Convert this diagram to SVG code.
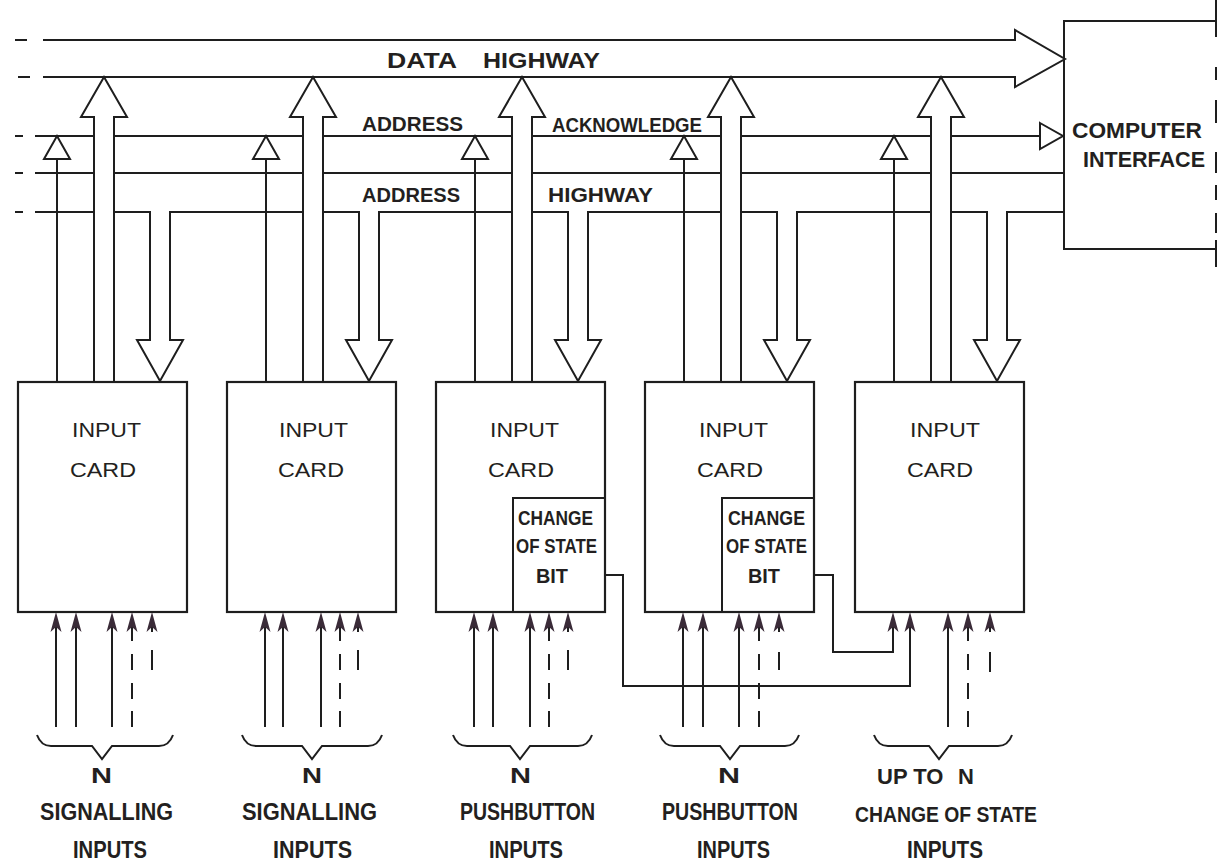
<svg xmlns="http://www.w3.org/2000/svg" width="1221" height="866" viewBox="0 0 1221 866">
<defs>
<style>
.ln{fill:none;stroke:#1e1e1e;stroke-width:2;stroke-linejoin:miter}
.wf{fill:#fff;stroke:#1e1e1e;stroke-width:2;stroke-linejoin:miter}
.card{fill:#fff;stroke:#1e1e1e;stroke-width:2.2}
.ah{fill:#3a2b38;stroke:none}
.t{font-family:"Liberation Sans",Arial,sans-serif;fill:#231f20}
.r{font-weight:normal}
.b{font-weight:bold}
</style>
<polygon id="inhead" class="ah" points="0,0 -5.5,20 0,15 5.5,20"/>
</defs>
<rect width="1221" height="866" fill="#fff"/>

<g id="connectors">
  <path class="ln" d="M15,40 H27 M18,77 H30 M15,136 H23 M15,173 H23 M15,212 H23"/>
  <path class="ln" d="M43,40 H1015 V30 L1065,59 L1015,87 V77 H43"/>
  <path class="ln" d="M35,136 H1040"/>
  <polygon class="wf" points="1040,123 1063,136 1040,149"/>
  <path class="ln" d="M35,173 H1064"/>
  <path class="ln" d="M35,212 H150 V340 H137 L160,381 L183,340 H170 V212 H359 V340 H346 L369,381 L392,340 H379 V212 H568 V340 H555 L578,381 L601,340 H588 V212 H777 V340 H764 L787,381 L810,340 H797 V212 H987 V340 H974 L997,381 L1020,340 H1007 V212 H1064"/>
  <path class="wf" d="M94,382 V117 H81 L104,77 L127,117 H114 V382 Z"/>
  <path class="wf" d="M303,382 V117 H290 L313,77 L336,117 H323 V382 Z"/>
  <path class="wf" d="M512,382 V117 H499 L522,77 L545,117 H532 V382 Z"/>
  <path class="wf" d="M721,382 V117 H708 L731,77 L754,117 H741 V382 Z"/>
  <path class="wf" d="M931,382 V117 H918 L941,77 L964,117 H951 V382 Z"/>
  <path class="ln" d="M57,382 V159 M266,382 V159 M475,382 V159 M684,382 V159 M894,382 V159"/>
  <polygon class="wf" points="44,159 57,136 70,159"/>
  <polygon class="wf" points="253,159 266,136 279,159"/>
  <polygon class="wf" points="462,159 475,136 488,159"/>
  <polygon class="wf" points="671,159 684,136 697,159"/>
  <polygon class="wf" points="881,159 894,136 907,159"/>
  <path class="ln" d="M605,575 H623 V686 H910 V625"/>
  <path class="ln" d="M814,575 H833 V652 H893 V625"/>
  <path class="ln" d="M56,625 V727 M76,625 V727 M112,625 V727 M265,625 V727 M283,625 V727 M321,625 V727 M474,625 V727 M493,625 V727 M530,625 V727 M683,625 V727 M703,625 V727 M739,625 V727 M948,625 V727"/>
  <path class="ln" d="M132,625 V641 M132,654 V670 M132,683 V699 M132,711 V727 M340,625 V641 M340,654 V670 M340,683 V699 M340,711 V727 M549,625 V641 M549,654 V670 M549,683 V699 M549,711 V727 M759,625 V641 M759,654 V670 M759,683 V699 M759,711 V727 M968,625 V641 M968,654 V670 M968,683 V699 M968,711 V727"/>
  <path class="ln" d="M152,625 V632 M152,650 V670 M358,625 V632 M358,650 V670 M568,625 V632 M568,650 V670 M779,625 V632 M779,652 V670 M990,625 V632 M990,652 V672"/>
  <use href="#inhead" x="56" y="612"/><use href="#inhead" x="76" y="612"/><use href="#inhead" x="112" y="612"/><use href="#inhead" x="132" y="612"/><use href="#inhead" x="152" y="612"/>
  <use href="#inhead" x="265" y="612"/><use href="#inhead" x="283" y="612"/><use href="#inhead" x="321" y="612"/><use href="#inhead" x="340" y="612"/><use href="#inhead" x="358" y="612"/>
  <use href="#inhead" x="474" y="612"/><use href="#inhead" x="493" y="612"/><use href="#inhead" x="530" y="612"/><use href="#inhead" x="549" y="612"/><use href="#inhead" x="568" y="612"/>
  <use href="#inhead" x="683" y="612"/><use href="#inhead" x="703" y="612"/><use href="#inhead" x="739" y="612"/><use href="#inhead" x="759" y="612"/><use href="#inhead" x="779" y="612"/>
  <use href="#inhead" x="893" y="612"/><use href="#inhead" x="910" y="612"/><use href="#inhead" x="948" y="612"/><use href="#inhead" x="968" y="612"/><use href="#inhead" x="990" y="612"/>
  <path class="ln" d="M37,735 Q41,746 51,746 H92 L102,759 L112,746 H159 Q169,746 173,735"/>
  <path class="ln" d="M242,735 Q246,746 256,746 H302 L312,759 L322,746 H368 Q378,746 382,735"/>
  <path class="ln" d="M453,735 Q457,746 467,746 H510 L520,759 L530,746 H578 Q588,746 592,735"/>
  <path class="ln" d="M660,735 Q664,746 674,746 H720 L730,759 L740,746 H785 Q795,746 799,735"/>
  <path class="ln" d="M874,735 Q878,746 888,746 H929 L939,759 L949,746 H998 Q1008,746 1012,735"/>
</g>

<g id="bus-labels" class="t b">
  <text x="387" y="68" font-size="22" textLength="70" lengthAdjust="spacingAndGlyphs">DATA</text>
  <text x="483" y="68" font-size="22" textLength="117" lengthAdjust="spacingAndGlyphs">HIGHWAY</text>
  <text x="362" y="131" font-size="21" textLength="101" lengthAdjust="spacingAndGlyphs">ADDRESS</text>
  <text x="552" y="132" font-size="21" textLength="150" lengthAdjust="spacingAndGlyphs">ACKNOWLEDGE</text>
  <text x="362" y="202" font-size="21" textLength="98" lengthAdjust="spacingAndGlyphs">ADDRESS</text>
  <text x="548" y="202" font-size="21" textLength="105" lengthAdjust="spacingAndGlyphs">HIGHWAY</text>
</g>

<g id="computer-interface">
  <path class="ln" d="M1216,21 H1064 V249 H1216"/>
  <path class="ln" d="M1216,0 V37 M1216,67 V80 M1216,100 V123 M1216,152 V173 M1216,185 V200 M1216,213 V233 M1216,240 V267"/>
  <text class="t b" x="1072" y="138" font-size="22" textLength="130" lengthAdjust="spacingAndGlyphs">COMPUTER</text>
  <text class="t b" x="1083" y="167" font-size="22" textLength="122" lengthAdjust="spacingAndGlyphs">INTERFACE</text>
</g>

<g id="card1">
  <rect class="card" x="18" y="382" width="169" height="230"/>
  <text class="t r" x="72" y="437" font-size="21" textLength="69" lengthAdjust="spacingAndGlyphs">INPUT</text>
  <text class="t r" x="70" y="477" font-size="21" textLength="66" lengthAdjust="spacingAndGlyphs">CARD</text>
  <text class="t b" x="91" y="783" font-size="22" textLength="21" lengthAdjust="spacingAndGlyphs">N</text>
  <text class="t b" x="40" y="820" font-size="23" textLength="133" lengthAdjust="spacingAndGlyphs">SIGNALLING</text>
  <text class="t b" x="73" y="858" font-size="23" textLength="74" lengthAdjust="spacingAndGlyphs">INPUTS</text>
</g>

<g id="card2">
  <rect class="card" x="227" y="382" width="169" height="230"/>
  <text class="t r" x="279" y="437" font-size="21" textLength="69" lengthAdjust="spacingAndGlyphs">INPUT</text>
  <text class="t r" x="278" y="477" font-size="21" textLength="66" lengthAdjust="spacingAndGlyphs">CARD</text>
  <text class="t b" x="302" y="783" font-size="22" textLength="20" lengthAdjust="spacingAndGlyphs">N</text>
  <text class="t b" x="242" y="820" font-size="23" textLength="135" lengthAdjust="spacingAndGlyphs">SIGNALLING</text>
  <text class="t b" x="273" y="858" font-size="23" textLength="79" lengthAdjust="spacingAndGlyphs">INPUTS</text>
</g>

<g id="card3">
  <rect class="card" x="436" y="382" width="169" height="230"/>
  <path class="ln" d="M513,612 V498 H605"/>
  <text class="t r" x="490" y="437" font-size="21" textLength="69" lengthAdjust="spacingAndGlyphs">INPUT</text>
  <text class="t r" x="488" y="477" font-size="21" textLength="66" lengthAdjust="spacingAndGlyphs">CARD</text>
  <text class="t b" x="518" y="525" font-size="21" textLength="75" lengthAdjust="spacingAndGlyphs">CHANGE</text>
  <text class="t b" x="516" y="553" font-size="21" textLength="81" lengthAdjust="spacingAndGlyphs">OF STATE</text>
  <text class="t b" x="536" y="583" font-size="21" textLength="32" lengthAdjust="spacingAndGlyphs">BIT</text>
  <text class="t b" x="510" y="783" font-size="22" textLength="21" lengthAdjust="spacingAndGlyphs">N</text>
  <text class="t b" x="460" y="820" font-size="23" textLength="135" lengthAdjust="spacingAndGlyphs">PUSHBUTTON</text>
  <text class="t b" x="489" y="858" font-size="23" textLength="74" lengthAdjust="spacingAndGlyphs">INPUTS</text>
</g>

<g id="card4">
  <rect class="card" x="645" y="382" width="169" height="230"/>
  <path class="ln" d="M722,612 V498 H814"/>
  <text class="t r" x="699" y="437" font-size="21" textLength="69" lengthAdjust="spacingAndGlyphs">INPUT</text>
  <text class="t r" x="697" y="477" font-size="21" textLength="66" lengthAdjust="spacingAndGlyphs">CARD</text>
  <text class="t b" x="728" y="525" font-size="21" textLength="77" lengthAdjust="spacingAndGlyphs">CHANGE</text>
  <text class="t b" x="726" y="553" font-size="21" textLength="81" lengthAdjust="spacingAndGlyphs">OF STATE</text>
  <text class="t b" x="748" y="583" font-size="21" textLength="32" lengthAdjust="spacingAndGlyphs">BIT</text>
  <text class="t b" x="718" y="783" font-size="22" textLength="22" lengthAdjust="spacingAndGlyphs">N</text>
  <text class="t b" x="662" y="820" font-size="23" textLength="136" lengthAdjust="spacingAndGlyphs">PUSHBUTTON</text>
  <text class="t b" x="697" y="858" font-size="23" textLength="73" lengthAdjust="spacingAndGlyphs">INPUTS</text>
</g>

<g id="card5">
  <rect class="card" x="855" y="382" width="169" height="230"/>
  <text class="t r" x="910" y="437" font-size="21" textLength="70" lengthAdjust="spacingAndGlyphs">INPUT</text>
  <text class="t r" x="907" y="477" font-size="21" textLength="66" lengthAdjust="spacingAndGlyphs">CARD</text>
  <text class="t b" y="784" font-size="22"><tspan x="877">UP TO</tspan><tspan x="958">N</tspan></text>
  <text class="t b" x="855" y="822" font-size="22" textLength="182" lengthAdjust="spacingAndGlyphs">CHANGE OF STATE</text>
  <text class="t b" x="907" y="858" font-size="23" textLength="76" lengthAdjust="spacingAndGlyphs">INPUTS</text>
</g>
</svg>
